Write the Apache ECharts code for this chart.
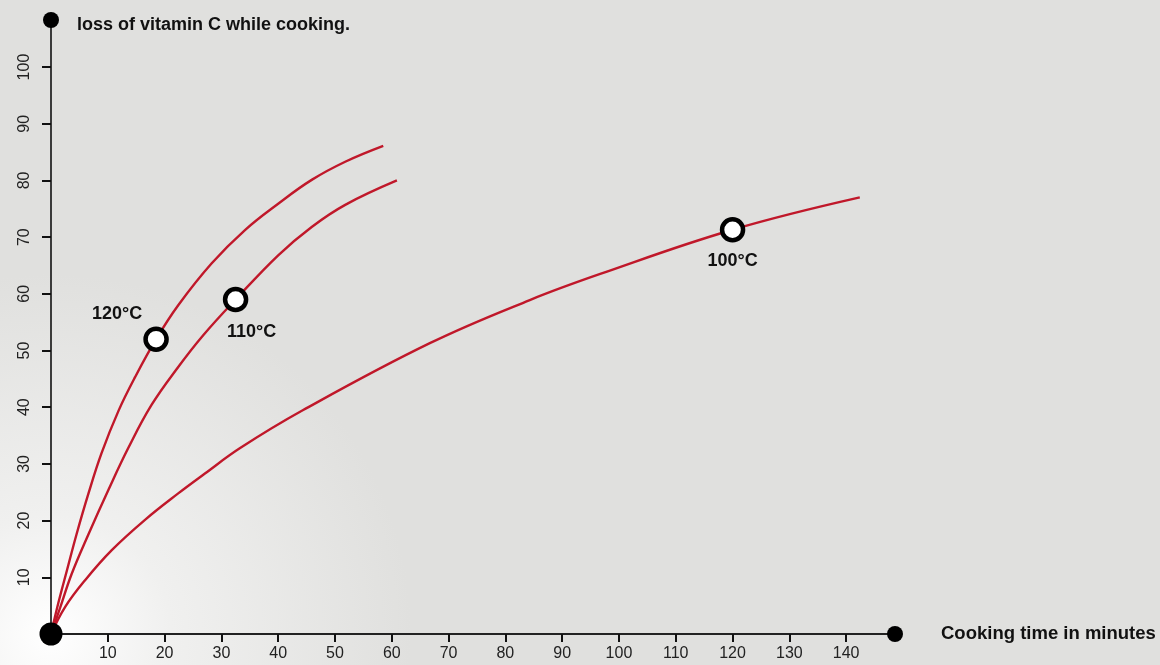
<!DOCTYPE html>
<html>
<head>
<meta charset="utf-8">
<script src="https://cdn.jsdelivr.net/npm/echarts@6/dist/echarts.min.js"></script>
<style>
html,body{margin:0;padding:0;}
body{width:1160px;height:665px;background:#e0e0de;}
#bg{position:absolute;left:0;top:0;width:1160px;height:665px;
background:radial-gradient(circle at 51px 634px, #ffffff 0px, #f0f0ef 120px, #e0e0de 360px);}
#chart{position:absolute;left:0;top:0;width:1160px;height:665px;}
</style>
</head>
<body>
<div id="bg"></div>
<div id="chart"></div>
<script>
// ---- data ----
const chartTitle = 'loss of vitamin C while cooking.';
const xAxisName = 'Cooking time in minutes';
const xTicks = [10,20,30,40,50,60,70,80,90,100,110,120,130,140];
const yTicks = [10,20,30,40,50,60,70,80,90,100];
const xMax = 148.6;
const yMax = 108.3;

const curve120 = [[0,0],[1.3,5.5],[2.8,11.2],[4.5,17.6],[6.6,24.8],[8.9,31.9],[11.9,39.4],[14.8,45.3],[18.5,52],
  [22.4,58.0],[28.3,65.4],[34.2,71.3],[40,75.9],[45.9,80.1],[51.8,83.3],[58.5,86.1]];
const curve110 = [[0,0],[1.6,4.6],[3.6,10.5],[6.6,17.6],[10.1,25.4],[13.6,32.8],[17.7,40.4],[22.4,47.1],[26.8,52.7],
  [32.5,59.0],[40,66.8],[45.9,71.8],[51.8,75.7],[60.9,80.0]];
const curve100 = [[0,0],[2.5,4.8],[6,9.5],[10.7,14.8],[16.5,20.1],[22.4,24.8],[27.1,28.3],[33.3,32.8],[44.4,39.5],
  [66.7,51.3],[84.3,58.9],[96.7,63.5],[120,71.3],[142.4,77]];

const markerNames = ['120°C','110°C','100°C'];
const markerPoints = [[18.5,52],[32.5,59.0],[120,71.3]];

// ---- chart ----
const FONT = '"Liberation Sans", Arial, Helvetica, sans-serif';
const RED = '#c0182a';
const labelOffsets = [[-39,-25],[16,33],[0,31]];

const chart = echarts.init(document.getElementById('chart'), null, {renderer:'canvas'});

function curveSeries(data){
  return {
    type:'line', data:data, smooth:0.4, showSymbol:false, symbol:'none',
    lineStyle:{color:RED,width:2.4}, z:3, silent:true, clip:false
  };
}

const option = {
  backgroundColor:'transparent',
  animation:false,
  title:{
    text:chartTitle, left:72, top:11,
    textStyle:{fontFamily:FONT,fontSize:18,fontWeight:'bold',color:'#111'}
  },
  grid:{left:51,right:265,top:20,bottom:31,containLabel:false},
  xAxis:{
    type:'value', min:0, max:xMax, interval:10,
    name:xAxisName, nameLocation:'end', nameGap:46,
    nameTextStyle:{fontFamily:FONT,fontSize:18.5,fontWeight:'bold',color:'#111',align:'left',verticalAlign:'middle'},
    axisLine:{show:true,lineStyle:{color:'#222',width:2}},
    axisTick:{show:true,inside:false,length:8,lineStyle:{color:'#111',width:2},customValues:xTicks},
    axisLabel:{show:true,margin:12,fontFamily:FONT,fontSize:16,color:'#222',customValues:xTicks},
    splitLine:{show:false}
  },
  yAxis:{
    type:'value', min:0, max:yMax, interval:10,
    axisLine:{show:true,lineStyle:{color:'#111',width:1.6}},
    axisTick:{show:true,inside:false,length:9,lineStyle:{color:'#111',width:2},customValues:yTicks},
    axisLabel:{show:true,rotate:90,margin:18,fontFamily:FONT,fontSize:16,color:'#222',customValues:yTicks},
    splitLine:{show:false}
  },
  series:[
    curveSeries(curve120),
    curveSeries(curve110),
    curveSeries(curve100),
    {
      type:'scatter', z:5, clip:false, silent:true,
      symbol:'circle', symbolSize:21,
      itemStyle:{color:'#ffffff',borderColor:'#000',borderWidth:4.5,opacity:1},
      data:markerPoints.map((p,i)=>({
        value:p, name:markerNames[i],
        label:{show:true,position:'inside',offset:labelOffsets[i],formatter:markerNames[i],
          fontFamily:FONT,fontSize:18,fontWeight:'bold',color:'#111'}
      }))
    },
    {
      type:'scatter', z:6, clip:false, silent:true, symbol:'circle',
      itemStyle:{color:'#000',opacity:1},
      data:[
        {value:[0,0],symbolSize:23},
        {value:[0,yMax],symbolSize:16},
        {value:[xMax,0],symbolSize:16}
      ]
    }
  ]
};
chart.setOption(option);
</script>
</body>
</html>
